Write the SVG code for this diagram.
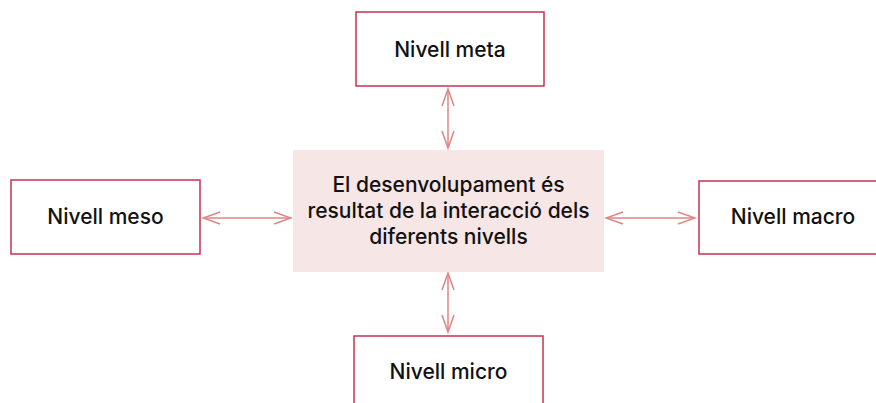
<svg xmlns="http://www.w3.org/2000/svg" width="876" height="403" viewBox="0 0 876 403">
<defs>
<style>
.box{fill:#fff;stroke:#c8324f;stroke-width:1.5}
.center{fill:#f7e6e6;stroke:none}
.t{font-family:Inter,"Liberation Sans",Arial,sans-serif;font-size:21px;font-weight:500;fill:#111;text-anchor:middle}
.c{fill:none;stroke:#e08585;stroke-width:1.5}
</style>
<marker id="ah" viewBox="0 0 20 14" refX="18" refY="7" markerWidth="20" markerHeight="14" markerUnits="userSpaceOnUse" orient="auto-start-reverse">
<path d="M1,1 L18,7 L1,13" fill="none" stroke="#e08585" stroke-width="1.5"/>
</marker>
</defs>
<rect width="876" height="403" fill="#fff"/>
<g id="connectors">
<line class="c" x1="448" y1="89" x2="448" y2="148" marker-start="url(#ah)" marker-end="url(#ah)"/>
<line class="c" x1="448" y1="273" x2="448" y2="332" marker-start="url(#ah)" marker-end="url(#ah)"/>
<line class="c" x1="203" y1="218" x2="291" y2="218" marker-start="url(#ah)" marker-end="url(#ah)"/>
<line class="c" x1="606" y1="218" x2="695" y2="218" marker-start="url(#ah)" marker-end="url(#ah)"/>
</g>
<g id="center">
<rect class="center" x="293" y="150" width="311" height="122"/>
<text class="t" x="448.5" y="192">El desenvolupament és</text>
<text class="t" x="448.5" y="218">resultat de la interacció dels</text>
<text class="t" x="448.5" y="244">diferents nivells</text>
</g>
<g id="meta">
<rect class="box" x="356" y="12" width="188" height="74"/>
<text class="t" x="450" y="57">Nivell meta</text>
</g>
<g id="meso">
<rect class="box" x="11" y="180" width="189" height="74"/>
<text class="t" x="105.5" y="224">Nivell meso</text>
</g>
<g id="macro">
<rect class="box" x="699" y="181" width="190" height="73"/>
<text class="t" x="793" y="224">Nivell macro</text>
</g>
<g id="micro">
<rect class="box" x="354" y="336" width="189" height="74"/>
<text class="t" x="448.5" y="379">Nivell micro</text>
</g>
</svg>
